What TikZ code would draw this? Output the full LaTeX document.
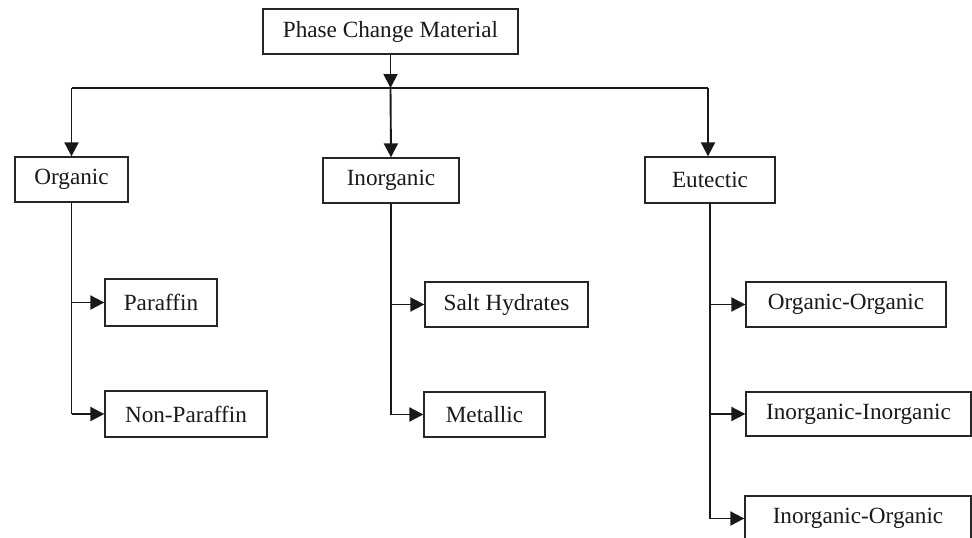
\documentclass[tikz,border=0pt]{standalone}
\usepackage{fontspec}
\setmainfont{Liberation Serif}
\usetikzlibrary{arrows.meta}
\begin{document}
\begin{tikzpicture}[x=1pt,y=-1pt,
  box/.style={draw=black!85,line width=1.3pt,rectangle,inner sep=0pt,
    font=\fontsize{23.2}{26}\selectfont,text=black!90},
  conn/.style={line width=1.9pt,draw=black!90},
  arr/.style={conn,-{Triangle[length=14pt,width=14pt]}}]
\clip (0,0) rectangle (972,538);
\fill[white] (0,0) rectangle (972,538);
\node[box,minimum width=255pt,minimum height=45pt] (pcm) at (390.5,31.5) {Phase Change Material};
\node[box,minimum width=113pt,minimum height=45pt] (org) at (71.5,179.5) {Organic};
\node[box,minimum width=136pt,minimum height=45pt] (inorg) at (391,180.5) {Inorganic};
\node[box,minimum width=130pt,minimum height=46pt] (eut) at (710,180) {Eutectic};
\node[box,minimum width=112pt,minimum height=47pt] (par) at (161,302.5) {Paraffin};
\node[box,minimum width=162pt,minimum height=46pt] (npar) at (186,414) {Non-Paraffin};
\node[box,minimum width=163pt,minimum height=45pt] (salt) at (506.5,304.5) {Salt Hydrates};
\node[box,minimum width=121pt,minimum height=45pt] (met) at (484.5,414.5) {Metallic};
\node[box,minimum width=200pt,minimum height=45pt] (oo) at (846,304.5) {Organic-Organic};
\node[box,minimum width=225pt,minimum height=44pt] (ii) at (858.5,414) {Inorganic-Inorganic};
\node[box,minimum width=226pt,minimum height=45pt] (io) at (858,518.5) {Inorganic-Organic};
\coordinate (hub) at (390.5,88);
\coordinate (hl) at (71.5,88);
\coordinate (hr) at (708,88);
% top
\draw[arr] (pcm.south) -- (hub);
\draw[conn] (hl) -- (hr);
\draw[arr] (hl) -- (org.north);
\draw[arr] (hub) -- (inorg.north);
\draw[arr] (hr) -- (hr |- eut.north);
% organic branch
\draw[conn] (org.south) -- (org.south |- npar.west);
\draw[arr] (org.south |- par.west) -- (par.west);
\draw[arr] (org.south |- npar.west) -- (npar.west);
% inorganic branch
\draw[conn] (inorg.south) -- (inorg.south |- met.west);
\draw[arr] (inorg.south |- salt.west) -- (salt.west);
\draw[arr] (inorg.south |- met.west) -- (met.west);
% eutectic branch
\draw[conn] (eut.south) -- (eut.south |- io.west);
\draw[arr] (eut.south |- oo.west) -- (oo.west);
\draw[arr] (eut.south |- ii.west) -- (ii.west);
\draw[arr] (eut.south |- io.west) -- (io.west);
\end{tikzpicture}
\end{document}
